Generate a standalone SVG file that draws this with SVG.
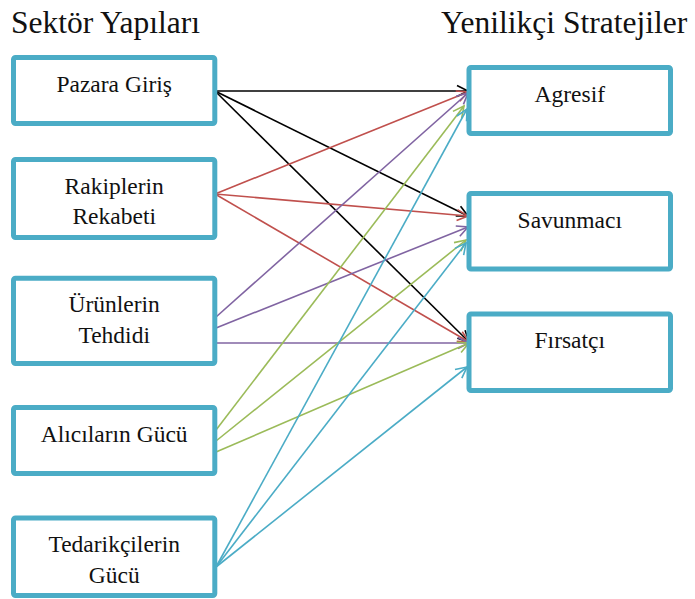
<svg xmlns="http://www.w3.org/2000/svg" width="695" height="599" viewBox="0 0 695 599">
<defs>
<marker id="ak" markerUnits="userSpaceOnUse" markerWidth="16" markerHeight="16" refX="0" refY="0" viewBox="-13 -8 15 16" orient="auto"><path d="M-11,-5.5 L0,0 L-11,5.5" fill="none" stroke="#000" stroke-width="1.6"/></marker>
<marker id="ar" markerUnits="userSpaceOnUse" markerWidth="16" markerHeight="16" refX="0" refY="0" viewBox="-13 -8 15 16" orient="auto"><path d="M-11,-5.5 L0,0 L-11,5.5" fill="none" stroke="#C0504D" stroke-width="1.6"/></marker>
<marker id="ap" markerUnits="userSpaceOnUse" markerWidth="16" markerHeight="16" refX="0" refY="0" viewBox="-13 -8 15 16" orient="auto"><path d="M-11,-5.5 L0,0 L-11,5.5" fill="none" stroke="#8064A2" stroke-width="1.6"/></marker>
<marker id="ag" markerUnits="userSpaceOnUse" markerWidth="16" markerHeight="16" refX="0" refY="0" viewBox="-13 -8 15 16" orient="auto"><path d="M-11,-5.5 L0,0 L-11,5.5" fill="none" stroke="#9BBB59" stroke-width="1.6"/></marker>
<marker id="ab" markerUnits="userSpaceOnUse" markerWidth="16" markerHeight="16" refX="0" refY="0" viewBox="-13 -8 15 16" orient="auto"><path d="M-11,-5.5 L0,0 L-11,5.5" fill="none" stroke="#4BACC6" stroke-width="1.6"/></marker>
</defs>
<rect width="695" height="599" fill="#fff"/>
<text x="11" y="33" font-size="31.5" font-family="Liberation Serif" fill="#111">Sektör Yapıları</text>
<text x="441" y="33" font-size="31.5" font-family="Liberation Serif" fill="#111">Yenilikçi Stratejiler</text>
<g id="connectors" fill="none" stroke-width="1.6">
<line stroke="#000" x1="215" y1="91" x2="468" y2="91" marker-end="url(#ak)"/>
<line stroke="#000" x1="215" y1="91" x2="468" y2="216" marker-end="url(#ak)"/>
<line stroke="#000" x1="215" y1="91" x2="469" y2="342" marker-end="url(#ak)"/>
<line stroke="#C0504D" x1="215" y1="194" x2="468" y2="92" marker-end="url(#ar)"/>
<line stroke="#C0504D" x1="215" y1="194" x2="468" y2="216" marker-end="url(#ar)"/>
<line stroke="#C0504D" x1="215" y1="194" x2="469" y2="342" marker-end="url(#ar)"/>
<line stroke="#8064A2" x1="216" y1="317" x2="468" y2="93" marker-end="url(#ap)"/>
<line stroke="#8064A2" x1="216" y1="328" x2="468" y2="227" marker-end="url(#ap)"/>
<line stroke="#8064A2" x1="216" y1="343" x2="469" y2="343" marker-end="url(#ap)"/>
<line stroke="#9BBB59" x1="216" y1="430" x2="464" y2="106" marker-end="url(#ag)"/>
<line stroke="#9BBB59" x1="216" y1="441" x2="466" y2="240" marker-end="url(#ag)"/>
<line stroke="#9BBB59" x1="216" y1="452" x2="469" y2="343" marker-end="url(#ag)"/>
<line stroke="#4BACC6" x1="216" y1="567" x2="467" y2="109" marker-end="url(#ab)"/>
<line stroke="#4BACC6" x1="216" y1="567" x2="466" y2="243" marker-end="url(#ab)"/>
<line stroke="#4BACC6" x1="216" y1="567" x2="467" y2="367" marker-end="url(#ab)"/>
</g>
<g id="n-pazara"><rect x="13.5" y="57.5" width="201.3" height="66" rx="2" fill="#fff" stroke="#4BACC6" stroke-width="5"/><text x="114.2" y="91.5" font-size="23.5" font-family="Liberation Serif" text-anchor="middle" fill="#111">Pazara Giriş</text></g>
<g id="n-rakip"><rect x="13.5" y="159.5" width="201.3" height="78" rx="2" fill="#fff" stroke="#4BACC6" stroke-width="5"/><text x="114.2" y="194.3" font-size="23.5" font-family="Liberation Serif" text-anchor="middle" fill="#111">Rakiplerin</text><text x="114.2" y="224" font-size="23.5" font-family="Liberation Serif" text-anchor="middle" fill="#111">Rekabeti</text></g>
<g id="n-urun"><rect x="13.5" y="278.2" width="201.3" height="85.3" rx="2" fill="#fff" stroke="#4BACC6" stroke-width="5"/><text x="114.2" y="312.3" font-size="23.5" font-family="Liberation Serif" text-anchor="middle" fill="#111">Ürünlerin</text><text x="114.2" y="343.3" font-size="23.5" font-family="Liberation Serif" text-anchor="middle" fill="#111">Tehdidi</text></g>
<g id="n-alici"><rect x="13.5" y="407.5" width="201.3" height="66" rx="2" fill="#fff" stroke="#4BACC6" stroke-width="5"/><text x="114.2" y="441.7" font-size="23.5" font-family="Liberation Serif" text-anchor="middle" fill="#111">Alıcıların Gücü</text></g>
<g id="n-tedarik"><rect x="13.5" y="518" width="201.3" height="77.5" rx="2" fill="#fff" stroke="#4BACC6" stroke-width="5"/><text x="114.2" y="551.7" font-size="23.5" font-family="Liberation Serif" text-anchor="middle" fill="#111">Tedarikçilerin</text><text x="114.2" y="582.7" font-size="23.5" font-family="Liberation Serif" text-anchor="middle" fill="#111">Gücü</text></g>
<g id="n-agresif"><rect x="469" y="67.5" width="201.5" height="66" rx="2" fill="#fff" stroke="#4BACC6" stroke-width="5"/><text x="569.8" y="101.7" font-size="23.5" font-family="Liberation Serif" text-anchor="middle" fill="#111">Agresif</text></g>
<g id="n-savunmaci"><rect x="469" y="193.5" width="201.5" height="75.5" rx="2" fill="#fff" stroke="#4BACC6" stroke-width="5"/><text x="569.8" y="227.7" font-size="23.5" font-family="Liberation Serif" text-anchor="middle" fill="#111">Savunmacı</text></g>
<g id="n-firsatci"><rect x="469" y="314" width="201.5" height="76.5" rx="2" fill="#fff" stroke="#4BACC6" stroke-width="5"/><text x="569.8" y="347.7" font-size="23.5" font-family="Liberation Serif" text-anchor="middle" fill="#111">Fırsatçı</text></g>
</svg>
